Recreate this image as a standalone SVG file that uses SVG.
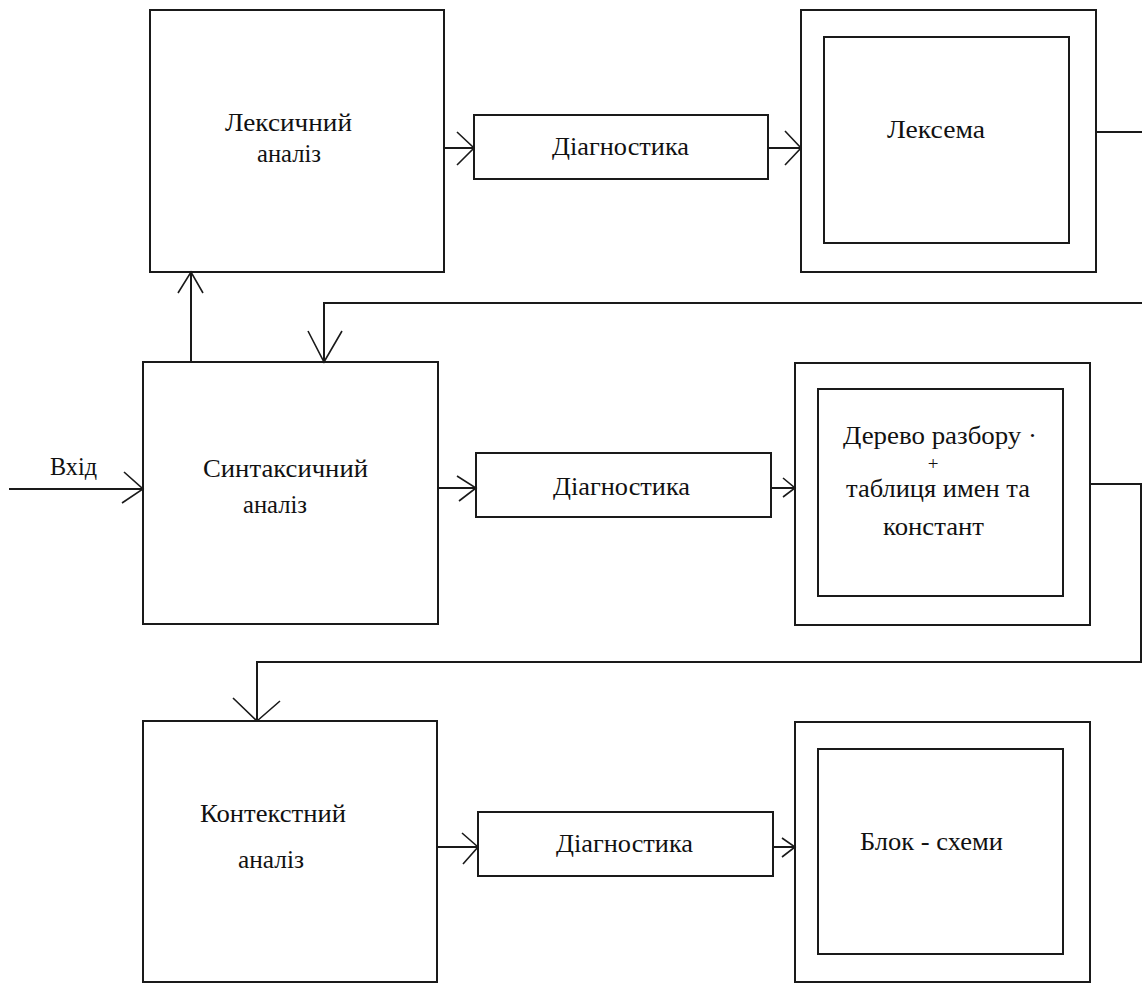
<svg xmlns="http://www.w3.org/2000/svg" width="1142" height="983" viewBox="0 0 1142 983">
<style>
.box{fill:none;stroke:#1a1a1a;stroke-width:2}
.ln{fill:none;stroke:#1a1a1a;stroke-width:2}
.ah{fill:none;stroke:#1a1a1a;stroke-width:1.6}
.t{font-family:"Liberation Serif","Times New Roman",serif;font-size:26px;fill:#111}
.p{font-family:"Liberation Serif","Times New Roman",serif;font-size:19px;fill:#111}
</style>
<rect width="1142" height="983" fill="#ffffff"/>
<g id="connectors">
<path class="ln" d="M444,148 H474"/><path class="ah" d="M457,132 L474,148 L457,165"/>
<path class="ln" d="M768,148 H801"/><path class="ah" d="M785,131 L801,148 L785,165"/>
<path class="ln" d="M1096,132 H1142"/>
<path class="ln" d="M1142,303 H324 V362"/><path class="ah" d="M308,331 L324,362 L342,331"/>
<path class="ln" d="M191,362 V272"/><path class="ah" d="M178,293 L191,272 L203,293"/>
<path class="ln" d="M9,489 H143"/><path class="ah" d="M124,472 L143,489 L122,503"/>
<path class="ln" d="M438,488 H476"/><path class="ah" d="M457,476 L476,488 L459,501"/>
<path class="ln" d="M771,488 H795"/><path class="ah" d="M783,478 L795,488 L783,497"/>
<path class="ln" d="M1090,484 H1141 V662 H257 V721"/><path class="ah" d="M233,698 L257,721 L280,701"/>
<path class="ln" d="M437,847 H478"/><path class="ah" d="M462,833 L478,847 L463,864"/>
<path class="ln" d="M773,847 H795"/><path class="ah" d="M782,838 L795,847 L782,857"/>
<text class="t" x="50" y="475" textLength="47" lengthAdjust="spacingAndGlyphs">Вхід</text>
</g>
<g id="lex">
<rect class="box" x="150" y="10" width="294" height="262"/>
<text class="t" x="225" y="131" textLength="127" lengthAdjust="spacingAndGlyphs">Лексичний</text>
<text class="t" x="257" y="162" textLength="64" lengthAdjust="spacingAndGlyphs">аналіз</text>
</g>
<g id="diag1">
<rect class="box" x="474" y="115" width="294" height="64"/>
<text class="t" x="552" y="155" textLength="137" lengthAdjust="spacingAndGlyphs">Діагностика</text>
</g>
<g id="lexema">
<rect class="box" x="801" y="10" width="295" height="262"/>
<rect class="box" x="824" y="37" width="245" height="206"/>
<text class="t" x="887" y="138" textLength="98" lengthAdjust="spacingAndGlyphs">Лексема</text>
</g>
<g id="syntax">
<rect class="box" x="143" y="362" width="295" height="262"/>
<text class="t" x="203" y="477" textLength="165" lengthAdjust="spacingAndGlyphs">Синтаксичний</text>
<text class="t" x="243" y="513" textLength="64" lengthAdjust="spacingAndGlyphs">аналіз</text>
</g>
<g id="diag2">
<rect class="box" x="476" y="453" width="295" height="64"/>
<text class="t" x="553" y="495" textLength="137" lengthAdjust="spacingAndGlyphs">Діагностика</text>
</g>
<g id="tree">
<rect class="box" x="795" y="363" width="295" height="262"/>
<rect class="box" x="818" y="389" width="245" height="207"/>
<text class="t" x="843" y="444" textLength="194" lengthAdjust="spacingAndGlyphs">Дерево разбору ·</text>
<text class="p" x="933" y="470" text-anchor="middle">+</text>
<text class="t" x="846" y="497" textLength="184" lengthAdjust="spacingAndGlyphs">таблиця имен та</text>
<text class="t" x="883" y="535" textLength="101" lengthAdjust="spacingAndGlyphs">констант</text>
</g>
<g id="context">
<rect class="box" x="143" y="721" width="294" height="261"/>
<text class="t" x="200" y="822" textLength="146" lengthAdjust="spacingAndGlyphs">Контекстний</text>
<text class="t" x="238" y="868" textLength="66" lengthAdjust="spacingAndGlyphs">аналіз</text>
</g>
<g id="diag3">
<rect class="box" x="478" y="812" width="295" height="64"/>
<text class="t" x="556" y="852" textLength="137" lengthAdjust="spacingAndGlyphs">Діагностика</text>
</g>
<g id="block">
<rect class="box" x="795" y="722" width="295" height="260"/>
<rect class="box" x="818" y="749" width="245" height="205"/>
<text class="t" x="860" y="850" textLength="143" lengthAdjust="spacingAndGlyphs">Блок - схеми</text>
</g>
</svg>
